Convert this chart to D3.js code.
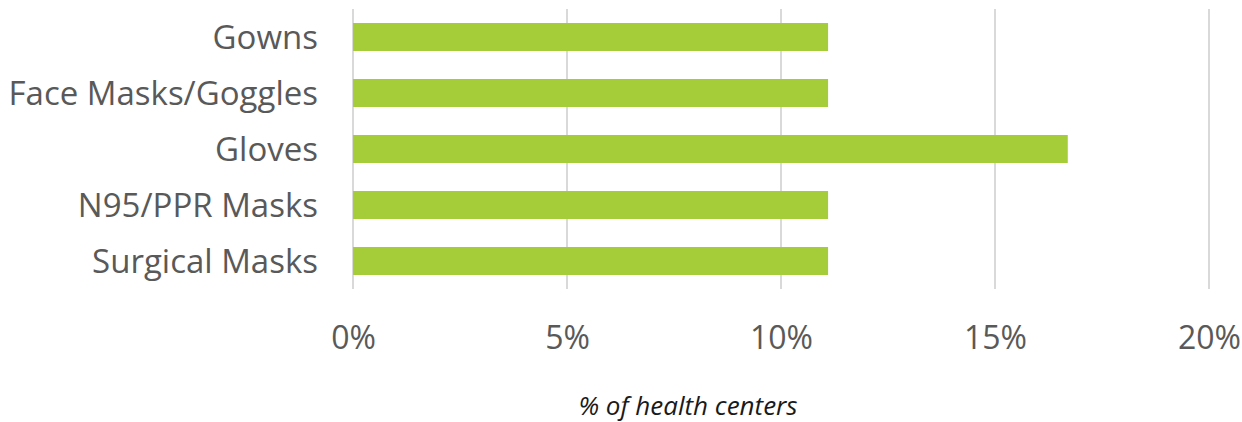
<!DOCTYPE html>
<html><head><meta charset="utf-8">
<script src="https://cdn.jsdelivr.net/npm/d3@7"></script>
<style>body{margin:0;background:#fff;} text{font-family:"Open Sans",sans-serif;fill:#595959;}</style>
</head><body><svg id="c" width="1242" height="422"></svg>
<script>
const categories = ["Gowns","Face Masks/Goggles","Gloves","N95/PPR Masks","Surgical Masks"];
const values = [0.111, 0.111, 0.167, 0.111, 0.111];
const tickValues = [0, 0.05, 0.10, 0.15, 0.20];
const axisTitle = "% of health centers";

const svg = d3.select("#c");
const x = d3.scaleLinear().domain([0, 0.20]).range([353, 1209]);
const y = d3.scaleBand().domain(categories).range([9, 289]).paddingInner(0.5).paddingOuter(0.25);

svg.append("g").selectAll("line").data(tickValues).join("line")
  .attr("x1", d => x(d)).attr("x2", d => x(d)).attr("y1", 9).attr("y2", 289)
  .attr("stroke", "#d9d9d9").attr("stroke-width", 2);

svg.append("g").selectAll("rect").data(categories).join("rect")
  .attr("x", x(0)).attr("y", d => y(d))
  .attr("width", (d, i) => x(values[i]) - x(0)).attr("height", y.bandwidth())
  .attr("fill", "#a5cd39");

const xAxis = d3.axisBottom(x).tickValues(tickValues).tickFormat(d3.format(".0%")).tickSize(0).tickPadding(0);
const gx = svg.append("g").attr("transform", "translate(0,326)").call(xAxis);
gx.select(".domain").remove();
gx.selectAll("text").attr("font-size", 32).attr("dy", "0.71em").style("font-family", "'Open Sans',sans-serif").attr("fill", "#595959");

const yAxis = d3.axisLeft(y).tickSize(0).tickPadding(0);
const gy = svg.append("g").attr("transform", "translate(318,0)").call(yAxis);
gy.select(".domain").remove();
gy.selectAll("text").attr("font-size", 33).attr("dy", "0.35em").style("font-family", "'Open Sans',sans-serif").attr("fill", "#595959");

svg.append("text").attr("x", 688).attr("y", 415).attr("text-anchor", "middle")
  .attr("font-size", 26).attr("font-style", "italic").style("fill", "#1a1a1a")
  .text(axisTitle);
</script></body></html>
